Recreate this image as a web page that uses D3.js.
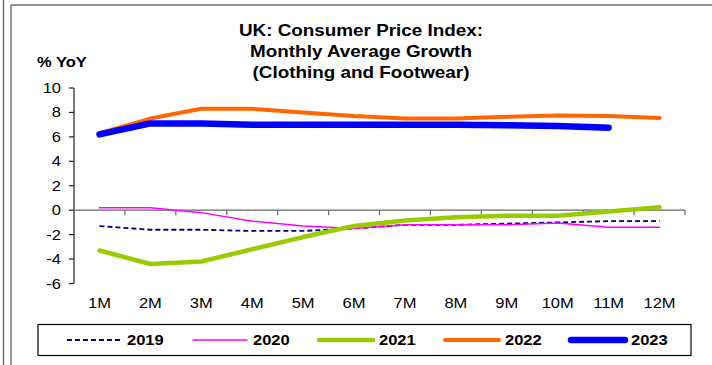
<!DOCTYPE html>
<html>
<head>
<meta charset="utf-8">
<script src="https://cdn.jsdelivr.net/npm/d3@7"></script>
<style>
  body { margin: 0; background: #fff; }
  svg { display: block; font-family: "Liberation Sans", Arial, sans-serif; }
</style>
</head>
<body>
<script>
var months = ["1M","2M","3M","4M","5M","6M","7M","8M","9M","10M","11M","12M"];
var yTicks = [-6,-4,-2,0,2,4,6,8,10];

var y2019 = [-1.3,-1.6,-1.6,-1.7,-1.7,-1.5,-1.2,-1.2,-1.1,-1.0,-0.9,-0.9];
var y2020 = [0.2,0.2,-0.2,-0.9,-1.3,-1.5,-1.2,-1.2,-1.2,-1.05,-1.4,-1.4];
var y2021 = [-3.3,-4.4,-4.2,-3.2,-2.2,-1.3,-0.85,-0.57,-0.46,-0.46,-0.1,0.25];
var y2022 = [6.3,7.5,8.3,8.3,8.0,7.7,7.5,7.5,7.65,7.75,7.7,7.55];
var y2023 = [6.2,7.1,7.1,7.0,7.0,7.0,7.0,7.0,6.95,6.9,6.75];

var series = [
  {name: "2019", values: y2019, color: "#000080", width: 1.8, dash: "5,3"},
  {name: "2020", values: y2020, color: "#FF00FF", width: 1.5, dash: null},
  {name: "2021", values: y2021, color: "#99CC00", width: 4.5, dash: null},
  {name: "2022", values: y2022, color: "#FF6600", width: 4, dash: null},
  {name: "2023", values: y2023, color: "#0000FF", width: 6.5, dash: null}
];

var W = 712, H = 365, sx = 1.18; // text is a bit stretched horizontally
var svg = d3.select("body").append("svg").attr("width", W).attr("height", H);

// outer frame
var frame = svg.append("g").attr("stroke", "#6e6e6e").attr("stroke-width", 1.4).attr("fill", "none");
frame.append("line").attr("x1", 3.5).attr("x2", 3.5).attr("y1", 0).attr("y2", H);
frame.append("line").attr("x1", 11).attr("x2", 11).attr("y1", 5).attr("y2", H);
frame.append("line").attr("x1", 11).attr("x2", W).attr("y1", 5).attr("y2", 5);

function txt(g, x, y, s, size, bold, anchor) {
  return g.append("text")
    .attr("transform", "translate(" + x + "," + y + ") scale(" + sx + ",1)")
    .attr("text-anchor", anchor || "start")
    .style("font-size", size + "px")
    .style("font-weight", bold ? "bold" : "normal")
    .attr("fill", "#000")
    .text(s);
}

// title
["UK: Consumer Price Index:", "Monthly Average Growth", "(Clothing and Footwear)"].forEach(function(t, i) {
  txt(svg, 361, 36 + i * 21, t, 16, true, "middle");
});
txt(svg, 37, 67, "% YoY", 14, true, "start");

var x = d3.scaleBand().domain(months).range([74, 685]);
var y = d3.scaleLinear().domain([-6, 10]).range([283.5, 88]);

// y axis
var ya = svg.append("g");
ya.append("line").attr("x1", 74).attr("x2", 74).attr("y1", y(10)).attr("y2", y(-6))
  .attr("stroke", "#222").attr("stroke-width", 1.2);
yTicks.forEach(function(t) {
  ya.append("line").attr("x1", 69).attr("x2", 74).attr("y1", y(t)).attr("y2", y(t))
    .attr("stroke", "#222").attr("stroke-width", 1.2);
  txt(ya, 61, y(t) + 5, String(t), 14, false, "end");
});

// x axis at zero
var xa = svg.append("g");
xa.append("line").attr("x1", 74).attr("x2", 685).attr("y1", y(0)).attr("y2", y(0))
  .attr("stroke", "#666").attr("stroke-width", 1.2);
months.forEach(function(m) {
  var xe = x(m) + x.bandwidth();
  xa.append("line").attr("x1", xe).attr("x2", xe).attr("y1", y(0)).attr("y2", y(0) + 5)
    .attr("stroke", "#666").attr("stroke-width", 1.2);
  txt(xa, x(m) + x.bandwidth() / 2, 308, m, 14, false, "middle");
});

// lines
var line = d3.line()
  .x(function(d, i) { return x(months[i]) + x.bandwidth() / 2; })
  .y(function(d) { return y(d); });

svg.append("g").selectAll("path").data(series).enter().append("path")
  .attr("d", function(s) { return line(s.values); })
  .attr("fill", "none")
  .attr("stroke", function(s) { return s.color; })
  .attr("stroke-width", function(s) { return s.width; })
  .attr("stroke-dasharray", function(s) { return s.dash; })
  .attr("stroke-linecap", function(s) { return s.dash ? "butt" : "round"; })
  .attr("stroke-linejoin", "round");

// legend
var lg = svg.append("g");
lg.append("rect").attr("x", 38).attr("y", 324.5).attr("width", 653).attr("height", 31)
  .attr("fill", "#fff").attr("stroke", "#000").attr("stroke-width", 1.2);
series.forEach(function(s, i) {
  var x0 = 67 + i * 126;
  lg.append("line").attr("x1", x0).attr("x2", x0 + 54).attr("y1", 340).attr("y2", 340)
    .attr("stroke", s.color).attr("stroke-width", s.width)
    .attr("stroke-dasharray", s.dash)
    .attr("stroke-linecap", s.dash ? "butt" : "round");
  txt(lg, x0 + 60, 345, s.name, 14, true, "start");
});
</script>
</body>
</html>
